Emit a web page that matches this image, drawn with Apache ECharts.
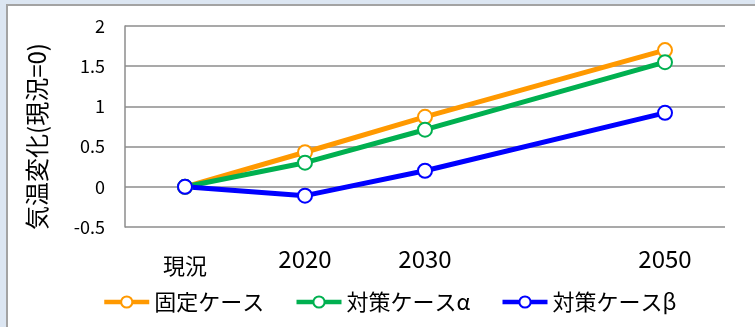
<!DOCTYPE html>
<html>
<head>
<meta charset="utf-8">
<script src="https://cdn.jsdelivr.net/npm/echarts@6/dist/echarts.min.js"></script>
<style>
  html, body { margin: 0; padding: 0; background: #dce6f2; }
  #chart { width: 755px; height: 327px; }
</style>
</head>
<body>
<div id="chart"></div>
<script>
// Years of each point (2010 is shown as 現況)
const years = [2010, 2020, 2030, 2050];
const xTickLabels = ['現況', '2020', '2030', '2050'];
// Temperature change relative to present, per case
const fixedCase = [0, 0.43, 0.87, 1.70];
const caseAlpha = [0, 0.30, 0.71, 1.55];
const caseBeta = [0, -0.11, 0.20, 0.92];
const seriesNames = ['固定ケース', '対策ケースα', '対策ケースβ'];
const seriesColors = ['#ff9900', '#00b050', '#0000ff'];
const yTicks = [-0.5, 0, 0.5, 1, 1.5, 2];

const FONT = '"Noto Sans CJK JP", "Noto Sans", sans-serif';
const gridColor = '#8c8c8c';

function pairs(values) {
  return years.map((y, i) => [y, values[i]]);
}

function lineSeries(name, values, color) {
  return {
    name: name,
    type: 'line',
    data: pairs(values),
    symbol: 'emptyCircle',
    symbolSize: 14,
    lineStyle: { color: color, width: 5 },
    itemStyle: { color: color, borderColor: color, borderWidth: 1.5 },
    emphasis: { disabled: true },
    animation: false
  };
}

const chart = echarts.init(document.getElementById('chart'), null, { renderer: 'canvas' });
chart.setOption({
  backgroundColor: '#dce6f2',
  animation: false,
  textStyle: { fontFamily: FONT },
  graphic: [{
    type: 'rect',
    z: -10,
    silent: true,
    shape: { x: 7, y: 5, width: 760, height: 340 },
    style: { fill: '#ffffff', stroke: '#a3a3a3', lineWidth: 2 }
  }],
  grid: {
    left: 125, right: 30, top: 26, bottom: 100,
    containLabel: false,
    outerBoundsMode: 'none'
  },
  legend: {
    data: seriesNames,
    left: 97,
    top: 286,
    itemWidth: 45,
    itemHeight: 14,
    itemGap: 30,
    lineStyle: { width: 4.5 },
    textStyle: { fontSize: 22, color: '#000', fontFamily: FONT }
  },
  xAxis: {
    type: 'value',
    min: 2005,
    max: 2055,
    axisLine: { show: false },
    axisTick: { show: false },
    splitLine: { show: false },
    axisLabel: {
      customValues: years,
      margin: 20,
      fontSize: 24,
      color: '#000',
      fontFamily: FONT,
      formatter: function (v) {
        const i = years.indexOf(v);
        const t = i >= 0 ? xTickLabels[i] : '';
        return i === 0 ? '{g|' + t + '}' : t;
      },
      rich: {
        g: { fontSize: 22, padding: [8, 0, 0, 0], color: '#000', fontFamily: FONT }
      }
    }
  },
  yAxis: {
    type: 'value',
    min: yTicks[0],
    max: yTicks[yTicks.length - 1],
    interval: 0.5,
    name: '気温変化(現況=0)',
    nameLocation: 'middle',
    nameGap: 76,
    nameTextStyle: { fontSize: 24, color: '#000', fontFamily: FONT, padding: [0, 20, 0, 0] },
    axisLine: { show: true, lineStyle: { color: gridColor, width: 1.5 } },
    axisTick: { show: false },
    splitLine: { show: true, lineStyle: { color: gridColor, width: 1.5 } },
    axisLabel: { fontSize: 18, color: '#000', margin: 20, fontFamily: FONT }
  },
  series: [
    lineSeries(seriesNames[0], fixedCase, seriesColors[0]),
    lineSeries(seriesNames[1], caseAlpha, seriesColors[1]),
    lineSeries(seriesNames[2], caseBeta, seriesColors[2])
  ]
});
</script>
</body>
</html>
